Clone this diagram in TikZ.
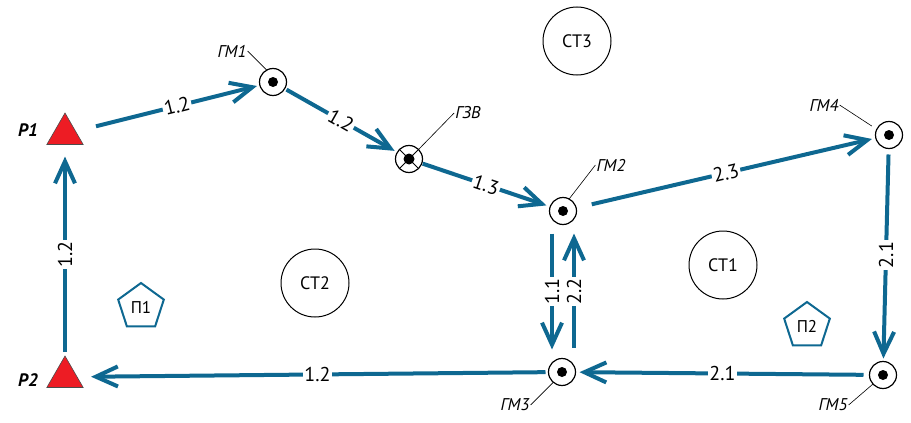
\documentclass[tikz,border=0pt]{standalone}
\usepackage{fontspec}
\setmainfont{PT Sans}
\usetikzlibrary{arrows.meta,shapes.geometric}

\definecolor{routeblue}{RGB}{14,104,145}
\definecolor{pointred}{RGB}{237,28,36}

\begin{document}
\begin{tikzpicture}[x = 1pt, y = -1pt, > = {Straight Barb[length = 22pt, width = 20pt]},
    leg/.style = {->, line width = 4pt, routeblue},
    num/.style = {fill = white, inner sep = 1.5pt, text = black, font = \fontsize{20}{24}\selectfont},
    tag/.style = {inner sep = 1pt, font = \fontsize{17}{20}\selectfont\itshape},
    lead/.style = {line width = 0.6pt},
    gm/.style = {circle, draw, line width = 1.2pt, minimum size = 27pt, inner sep = 0pt, outer sep = 0pt,
      path picture = {\fill (path picture bounding box.center) circle (5pt);}},
    gzv/.style = {circle, draw, line width = 1.2pt, minimum size = 27pt, inner sep = 0pt, outer sep = 0pt,
      path picture = {\draw[line width = 1pt] (path picture bounding box.north west) -- (path picture bounding box.south east)
        (path picture bounding box.north east) -- (path picture bounding box.south west);
        \fill (path picture bounding box.center) circle (5.5pt);}},
    st/.style = {circle, draw, line width = 1pt, minimum size = 68pt, inner sep = 0pt, font = \fontsize{18}{22}\selectfont},
    pp/.style = {regular polygon, regular polygon sides = 5, draw = routeblue, line width = 2pt, minimum size = 48pt,
      inner sep = 0pt, font = \fontsize{17}{20}\selectfont},
    rp/.style = {regular polygon, regular polygon sides = 3, fill = pointred, draw = black!70, line width = 0.6pt,
      minimum size = 42pt, inner sep = 0pt, outer sep = 0pt}]
    \useasboundingbox (0,0) rectangle (911,423);
    \node at (65,134) [rp] (P1) {};
    \node at (65,377) [rp] (P2) {};
    \node at (28,130) [font = \fontsize{18}{22}\selectfont\bfseries\itshape] (tP1) {P1};
    \node at (28,380) [font = \fontsize{18}{22}\selectfont\bfseries\itshape] (tP2) {P2};
    \node at (273,82) [gm] (GM1) {};
    \node at (409,159) [gzv] (GZV) {};
    \node at (563,211) [gm] (GM2) {};
    \node at (889,135) [gm] (GM4) {};
    \node at (562,372) [gm] (GM3) {};
    \node at (883,375) [gm] (GM5) {};
    \node at (577,41) [st] (ST3) {СТ3};
    \node at (315,283) [st] (ST2) {СТ2};
    \node at (723,265) [st] (ST1) {СТ1};
    \node at (141,307) [pp] (PP1) {П1};
    \node at (807,326) [pp] (PP2) {П2};
    \node at (232,51) [tag] (tGM1) {ГМ1};
    \node at (468,113) [tag] (tGZV) {ГЗВ};
    \node at (611,165) [tag] (tGM2) {ГМ2};
    \node at (824,105) [tag] (tGM4) {ГМ4};
    \node at (515,405) [tag] (tGM3) {ГМ3};
    \node at (833,405) [tag] (tGM5) {ГМ5};
    \draw[lead] (GM1.118) -- (tGM1.east);
    \draw[lead] (GZV.45) -- (tGZV.west);
    \draw[lead] (GM2.63) -- (tGM2.west);
    \draw[lead, shorten <= 6pt] (GM4.155) -- (tGM4.east);
    \draw[lead] (GM3.230) -- (tGM3.east);
    \draw[lead] (GM5.222) -- (tGM5.east);
    \draw[leg, shorten <= 21pt, shorten >= 3pt] (P1) -- (GM1) node[num, pos = 0.55, sloped] {1.2};
    \draw[leg, shorten <= 2pt, shorten >= 3pt] (GM1) -- (GZV) node[num, midway, sloped] {1.2};
    \draw[leg, shorten <= 1pt, shorten >= 4pt] (GZV) -- (GM2) node[num, midway, sloped] {1.3};
    \draw[leg, shorten <= 16pt, shorten >= 4pt] (GM2) -- (GM4) node[num, midway, sloped] {2.3};
    \draw[leg, shorten <= 6pt, shorten >= 3pt] (GM4) -- (GM5) node[num, midway, rotate = 90] {2.1};
    \draw[leg, shorten <= 6pt, shorten >= 4pt] (GM5) -- (GM3) node[num, midway] {2.1};
    \draw[leg, shorten <= 3pt, shorten >= 14pt] (GM3) -- (P2) node[num, pos = 0.49] {1.2};
    \draw[leg, shorten <= 4pt, shorten >= 12pt] (P2) -- (P1) node[num, pos = 0.48, rotate = 90] {1.2};
    \draw[leg, shorten <= 9pt, shorten >= 9pt] ([xshift = -11pt]GM2.south) -- ([xshift = -10pt]GM3.north) node[num, midway, rotate = 90] {1.1};
    \draw[leg, shorten <= 11pt, shorten >= 9pt] ([xshift = 12pt]GM3.north) -- ([xshift = 11pt]GM2.south) node[num, midway, rotate = 90] {2.2};
\end{tikzpicture}
\end{document}
